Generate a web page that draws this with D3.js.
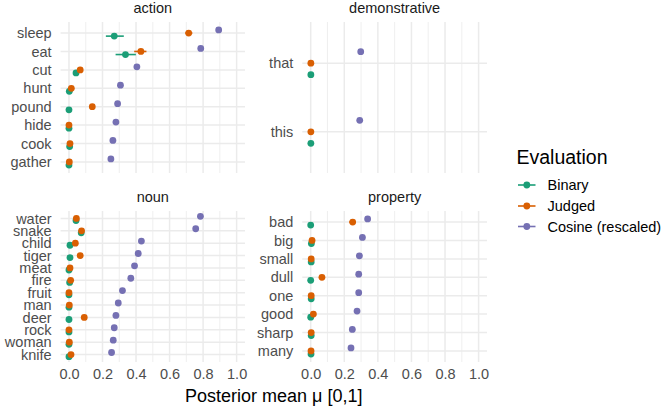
<!DOCTYPE html>
<html>
<head>
<meta charset="utf-8">
<script src="https://cdn.jsdelivr.net/npm/d3@7"></script>
<style>
  body { margin: 0; background: #fff; }
  text { font-family: "Liberation Sans", Arial, sans-serif; }
</style>
</head>
<body>
<div id="chart"></div>
<script>
// values, words listed top to bottom
const actionWords  = ["sleep", "eat", "cut", "hunt", "pound", "hide", "cook", "gather"];
const actionBinary = [0.27, 0.337, 0.042, 0.002, 0.0, 0.0, 0.004, 0.0];
const actionJudged = [0.714, 0.429, 0.067, 0.014, 0.139, 0.0, 0.006, 0.002];
const actionCosine = [0.893, 0.786, 0.405, 0.307, 0.29, 0.28, 0.262, 0.25];

const demoWords  = ["that", "this"];
const demoBinary = [0.001, 0.001];
const demoJudged = [0.001, 0.001];
const demoCosine = [0.298, 0.292];

const nounWords  = ["water", "snake", "child", "tiger", "meat", "fire", "fruit", "man", "deer", "rock", "woman", "knife"];
const nounBinary = [0.042, 0.073, 0.006, 0.006, 0.0, 0.004, 0.0, 0.0, 0.0, 0.0, 0.0, 0.0];
const nounJudged = [0.044, 0.075, 0.038, 0.067, 0.006, 0.01, 0.0, 0.002, 0.091, 0.0, 0.002, 0.012];
const nounCosine = [0.784, 0.756, 0.432, 0.413, 0.391, 0.369, 0.319, 0.294, 0.28, 0.27, 0.264, 0.254];

const propWords  = ["bad", "big", "small", "dull", "one", "good", "sharp", "many"];
const propBinary = [0.0, 0.004, 0.003, 0.0, 0.003, 0.0, 0.003, 0.002];
const propJudged = [0.25, 0.008, 0.003, 0.067, 0.003, 0.016, 0.003, 0.002];
const propCosine = [0.339, 0.308, 0.29, 0.286, 0.286, 0.276, 0.248, 0.24];

// visible intervals: panel, word, series index, low, high
const intervals = [
  ["action", "sleep", 0, 0.22, 0.327],
  ["action", "sleep", 1, 0.694, 0.736],
  ["action", "eat", 0, 0.278, 0.399],
  ["action", "eat", 1, 0.389, 0.462],
  ["property", "bad", 1, 0.23, 0.27]
];

const panelNames = ["action", "demonstrative", "noun", "property"];
const seriesNames = ["Binary", "Judged", "Cosine (rescaled)"];
const seriesColors = ["#1B9E77", "#D95F02", "#7570B3"];
const xTicks = [0, 0.2, 0.4, 0.6, 0.8, 1.0];
const xMinor = [0.1, 0.3, 0.5, 0.7, 0.9];

const panelData = {
  action: [actionWords, [actionBinary, actionJudged, actionCosine]],
  demonstrative: [demoWords, [demoBinary, demoJudged, demoCosine]],
  noun: [nounWords, [nounBinary, nounJudged, nounCosine]],
  property: [propWords, [propBinary, propJudged, propCosine]]
};

const width = 670, height = 410;
const cols = [[60.6, 245], [302.3, 487]];
const rows = [[22, 173], [211, 362]];
const dodge = [-0.167, 0, 0.167];

const svg = d3.select("#chart").append("svg")
  .attr("width", width)
  .attr("height", height);

panelNames.forEach(function (name, p) {
  const col = cols[p % 2], row = rows[Math.floor(p / 2)];
  const words = panelData[name][0];
  const series = panelData[name][1];
  const n = words.length;

  const x = d3.scaleLinear().domain([-0.05, 1.05]).range(col);
  const y = d3.scaleLinear().domain([0.4, n + 0.6]).range([row[1], row[0]]);
  const pos = function (i) { return n - i; };

  const g = svg.append("g");

  // grid
  g.selectAll(".minor").data(xMinor).join("line")
    .attr("x1", d => x(d)).attr("x2", d => x(d))
    .attr("y1", row[0]).attr("y2", row[1])
    .attr("stroke", "#EBEBEB").attr("stroke-width", 0.8);
  g.selectAll(".major").data(xTicks).join("line")
    .attr("x1", d => x(d)).attr("x2", d => x(d))
    .attr("y1", row[0]).attr("y2", row[1])
    .attr("stroke", "#EBEBEB").attr("stroke-width", 1.5);
  g.selectAll(".hgrid").data(words).join("line")
    .attr("x1", col[0]).attr("x2", col[1])
    .attr("y1", (d, i) => y(pos(i))).attr("y2", (d, i) => y(pos(i)))
    .attr("stroke", "#EBEBEB").attr("stroke-width", 1.5);

  // strip title
  g.append("text")
    .attr("x", (col[0] + col[1]) / 2).attr("y", row[0] - 14)
    .attr("dy", "0.35em").attr("text-anchor", "middle")
    .attr("font-size", 14.5).attr("fill", "#1A1A1A")
    .text(name);

  // y axis labels
  const yAxis = g.append("g")
    .attr("transform", "translate(" + (col[0] - 9) + ",0)")
    .call(d3.axisLeft(y)
      .tickValues(words.map((d, i) => pos(i)))
      .tickFormat((d) => words[n - d])
      .tickSize(0).tickPadding(0));
  yAxis.select(".domain").remove();
  yAxis.selectAll("text")
    .attr("font-size", 14.5).attr("fill", "#4D4D4D")
    .style("font-family", "Liberation Sans, Arial, sans-serif");

  // x axis labels on bottom row only
  if (p >= 2) {
    const xAxis = g.append("g")
      .attr("transform", "translate(0," + (row[1] + 7) + ")")
      .call(d3.axisBottom(x).tickValues(xTicks).tickFormat(d3.format(".1f"))
        .tickSize(0).tickPadding(0));
    xAxis.select(".domain").remove();
    xAxis.selectAll("text")
      .attr("font-size", 14.5).attr("fill", "#4D4D4D")
      .style("font-family", "Liberation Sans, Arial, sans-serif");
  }

  // intervals then points, series by series
  series.forEach(function (vals, s) {
    intervals.filter(d => d[0] === name && d[2] === s).forEach(function (d) {
      const i = words.indexOf(d[1]);
      g.append("line")
        .attr("x1", x(d[3])).attr("x2", x(d[4]))
        .attr("y1", y(pos(i) + dodge[s])).attr("y2", y(pos(i) + dodge[s]))
        .attr("stroke", seriesColors[s]).attr("stroke-width", 1.6);
    });
    g.selectAll(".pt" + s).data(vals).join("circle")
      .attr("cx", d => x(d))
      .attr("cy", (d, i) => y(pos(i) + dodge[s]))
      .attr("r", 3.4)
      .attr("fill", seriesColors[s]);
  });
});

// x axis title
svg.append("text")
  .attr("x", (cols[0][0] + cols[1][1]) / 2).attr("y", 396)
  .attr("dy", "0.35em").attr("text-anchor", "middle")
  .attr("font-size", 18).attr("fill", "#000")
  .text("Posterior mean μ [0,1]");

// legend
const legend = svg.append("g");
legend.append("text")
  .attr("x", 516.5).attr("y", 157)
  .attr("dy", "0.35em")
  .attr("font-size", 19.5).attr("fill", "#000")
  .text("Evaluation");
const keyY = [185, 206, 226.5];
seriesNames.forEach(function (name, s) {
  legend.append("line")
    .attr("x1", 518).attr("x2", 535.5)
    .attr("y1", keyY[s]).attr("y2", keyY[s])
    .attr("stroke", seriesColors[s]).attr("stroke-width", 1.6);
  legend.append("circle")
    .attr("cx", 526.8).attr("cy", keyY[s]).attr("r", 3.4)
    .attr("fill", seriesColors[s]);
  legend.append("text")
    .attr("x", 547.5).attr("y", keyY[s])
    .attr("dy", "0.35em")
    .attr("font-size", 14.5).attr("fill", "#000")
    .text(name);
});
</script>
</body>
</html>
